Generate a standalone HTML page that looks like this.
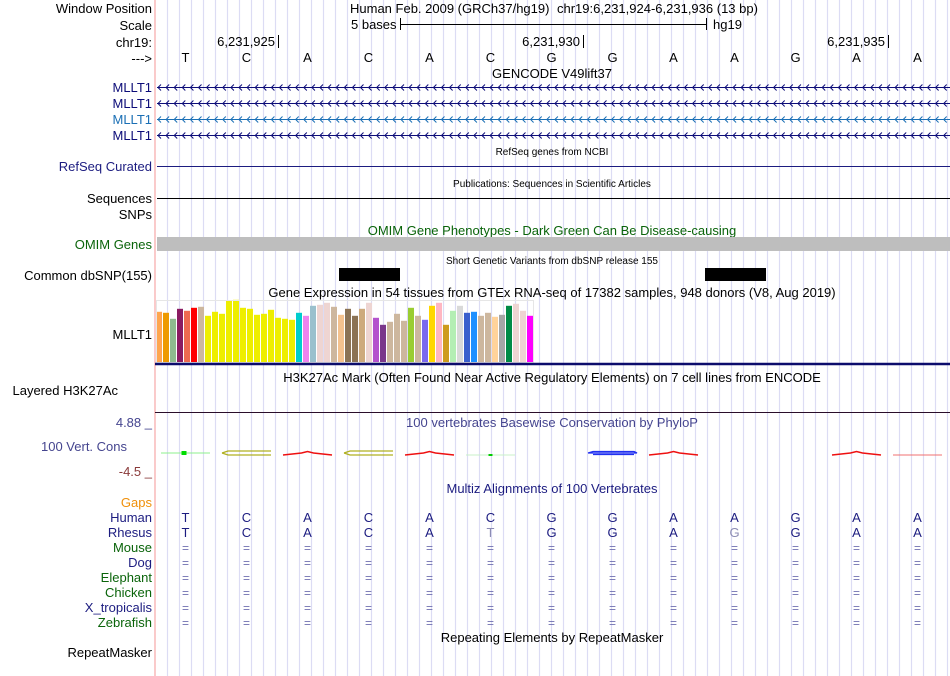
<!DOCTYPE html>
<html><head><meta charset="utf-8"><style>
html,body{margin:0;padding:0;background:#fff;}
svg{display:block;font-family:"Liberation Sans",sans-serif;}
</style></head><body>
<svg id="c" width="950" height="676" xmlns="http://www.w3.org/2000/svg">
<g id="grid"></g>
<line x1="155" y1="0" x2="155" y2="676" stroke="#f7a8a8" stroke-width="1.2"/>
<g id="labels" font-size="13" text-anchor="end">
 <text x="152" y="13" fill="#000">Window Position</text>
 <text x="152" y="30" fill="#000">Scale</text>
 <text x="152" y="47" fill="#000">chr19:</text>
 <text x="152" y="63" fill="#000">---&gt;</text>
 <text x="152" y="92" fill="#0c0c78">MLLT1</text>
 <text x="152" y="108" fill="#0c0c78">MLLT1</text>
 <text x="152" y="124" fill="#1a6fb5">MLLT1</text>
 <text x="152" y="140" fill="#0c0c78">MLLT1</text>
 <text x="152" y="171" fill="#1c1c80">RefSeq Curated</text>
 <text x="152" y="203" fill="#000">Sequences</text>
 <text x="152" y="219" fill="#000">SNPs</text>
 <text x="152" y="249" fill="#0a640a">OMIM Genes</text>
 <text x="152" y="280" fill="#000">Common dbSNP(155)</text>
 <text x="152" y="339" fill="#000">MLLT1</text>
 <text x="118" y="395" fill="#000">Layered H3K27Ac</text>
 <text x="152" y="427" fill="#45458f">4.88 _</text>
 <text x="127" y="451" fill="#45458f">100 Vert. Cons</text>
 <text x="152" y="476" fill="#8a3a3a">-4.5 _</text>
 <text x="152" y="507" fill="#f0900a">Gaps</text>
 <text x="152" y="522" fill="#1c1c80">Human</text>
 <text x="152" y="537" fill="#1c1c80">Rhesus</text>
 <text x="152" y="552" fill="#0a640a">Mouse</text>
 <text x="152" y="567" fill="#1c1c80">Dog</text>
 <text x="152" y="582" fill="#0a640a">Elephant</text>
 <text x="152" y="597" fill="#0a640a">Chicken</text>
 <text x="152" y="612" fill="#1c1c80">X_tropicalis</text>
 <text x="152" y="627" fill="#0a640a">Zebrafish</text>
 <text x="152" y="657" fill="#000">RepeatMasker</text>
</g>
<g font-size="13" fill="#000">
 <text x="350" y="13">Human Feb. 2009 (GRCh37/hg19)</text>
 <text x="557" y="13">chr19:6,231,924-6,231,936 (13 bp)</text>
 <text x="351" y="29">5 bases</text>
 <line x1="400.5" y1="18" x2="400.5" y2="30" stroke="#000"/>
 <line x1="400" y1="24.5" x2="706" y2="24.5" stroke="#000"/>
 <line x1="706.5" y1="18" x2="706.5" y2="30" stroke="#000"/>
 <text x="713" y="29">hg19</text>
</g>
<g id="dyn"></g>
<g font-size="13" text-anchor="middle">
 <text x="552" y="78" fill="#000">GENCODE V49lift37</text>
 <text x="552" y="155" fill="#000" font-size="10">RefSeq genes from NCBI</text>
 <text x="552" y="187" fill="#000" font-size="10">Publications: Sequences in Scientific Articles</text>
 <text x="552" y="235" fill="#0a640a">OMIM Gene Phenotypes - Dark Green Can Be Disease-causing</text>
 <text x="552" y="264" fill="#000" font-size="10">Short Genetic Variants from dbSNP release 155</text>
 <text x="552" y="297" fill="#000">Gene Expression in 54 tissues from GTEx RNA-seq of 17382 samples, 948 donors (V8, Aug 2019)</text>
 <text x="552" y="382" fill="#000">H3K27Ac Mark (Often Found Near Active Regulatory Elements) on 7 cell lines from ENCODE</text>
 <text x="552" y="427" fill="#45458f">100 vertebrates Basewise Conservation by PhyloP</text>
 <text x="552" y="493" fill="#1c1c80">Multiz Alignments of 100 Vertebrates</text>
 <text x="552" y="642" fill="#000">Repeating Elements by RepeatMasker</text>
</g>
<line x1="157" y1="166.5" x2="950" y2="166.5" stroke="#1c1c80"/>
<line x1="157" y1="198.5" x2="950" y2="198.5" stroke="#000"/>
<rect x="157" y="237" width="793" height="14" fill="#bebebe"/>
<rect x="156.5" y="300.5" width="377" height="62" fill="none" stroke="#e6e6e6"/>
<line x1="155" y1="364" x2="950" y2="364" stroke="#0c0c6c" stroke-width="2.5"/>
<line x1="155" y1="412.5" x2="950" y2="412.5" stroke="#2a0e2a"/>
<script>
const bases = ["T","C","A","C","A","C","G","G","A","A","G","A","A"];
const rhesusBases = ["T","C","A","C","A","T","G","G","A","G","G","A","A"];
const tickLabels = ["6,231,925","6,231,930","6,231,935"];
const tickBaseIndex = [1,6,11];
const snpBaseIndex = [3,9];
const consType = ["green","olive","red","olive","red","faint","none","blue","red","none","none","red","faintred"];
const gtexValues = [50.7,49.7,43.7,53.7,51.7,54.7,55.7,46.7,50.7,48.7,61.7,62.7,54.7,53.7,47.7,48.7,52.7,44.7,43.7,42.7,49.7,46.7,56.7,57.7,59.7,55.7,47.7,53.7,46.7,53.7,59.7,44.7,37.7,40.7,48.7,41.7,54.7,46.7,42.7,56.7,59.7,37.7,51.7,56.7,49.7,50.7,46.7,49.7,45.7,47.7,56.7,58.7,51.7,46.7];
const gtexColors = ["#FFA54F","#EE9A00","#8FBC8F","#8B1C62","#EE6A50","#FF0000","#CDB79E","#EEEE00","#EEEE00","#EEEE00","#EEEE00","#EEEE00","#EEEE00","#EEEE00","#EEEE00","#EEEE00","#EEEE00","#EEEE00","#EEEE00","#EEEE00","#00CDCD","#EE82EE","#9AC0CD","#EED5D2","#EED5D2","#CDB79E","#F4C28E","#8B7355","#8B7355","#CDAA7D","#EED5D2","#B452CD","#7A378B","#CDB79E","#CDB79E","#CDB79E","#9ACD32","#CDB79E","#7B68EE","#FFD700","#FFB6C1","#CD9B1D","#B4EEB4","#D9D9D9","#3A5FCD","#1E90FF","#CDB79E","#CDB79E","#FFD39B","#A6A6A6","#008B45","#EED5D2","#EED5D2","#FF00FF"];
const speciesRows = ["Mouse","Dog","Elephant","Chicken","X_tropicalis","Zebrafish"];

const NS="http://www.w3.org/2000/svg";
const X0=155, BW=61;
const bx = i => X0 + BW*i;
const bc = i => X0 + BW*i + BW/2;
const gtexMax = 63, gtexBase = 362.5, gtexH = 63;
const gy = v => gtexBase - v/gtexMax*gtexH;
function mk(tag, attrs, parent){const e=document.createElementNS(NS,tag);for(const k in attrs)e.setAttribute(k,attrs[k]);(parent||document.getElementById('dyn')).appendChild(e);return e;}

const grid=document.getElementById('grid');
for(let x=167.5;x<950;x+=12){
  const l=mk('line',{x1:x,y1:0,x2:x,y2:676,stroke:'#dcdcf4','stroke-width':1.2},grid);
  
  
}
tickLabels.forEach((t,k)=>{
  const x=bx(tickBaseIndex[k]+1)+1;
  const tx=mk('text',{x:x-3,y:46,'font-size':13,'text-anchor':'end',fill:'#000'});tx.textContent=t;
  
  
  const ln=mk('line',{x1:x+0.5,y1:35,x2:x+0.5,y2:48,stroke:'#000'});
  
  
});
bases.forEach((b,i)=>{
  const t=mk('text',{x:bc(i),y:62,'font-size':13,'text-anchor':'middle',fill:'#000'});t.textContent=b;
  
  
  const h=mk('text',{x:bc(i),y:522,'font-size':13,'text-anchor':'middle',fill:'#1c1c80'});h.textContent=b;
  
  
  const r=mk('text',{x:bc(i),y:537,'font-size':13,'text-anchor':'middle',fill:rhesusBases[i]===b?'#1c1c80':'#8c8cb4'});r.textContent=rhesusBases[i];
  
  
  speciesRows.forEach((s,k)=>{
    const e=mk('text',{x:bc(i),y:552+15*k,'font-size':12,'text-anchor':'middle',fill:'#7070b0'});e.textContent='=';
    
    
  });
});
const geneColors=['#0c0c78','#0c0c78','#1a6fb5','#0c0c78'];
geneColors.forEach((c,k)=>{
  const y=87.5+16*k;
  let d=`M157 ${y} L950 ${y}`;
  for(let x=158;x<948;x+=8.1){d+=` M${(x+3).toFixed(1)} ${y-3} L${x.toFixed(1)} ${y} L${(x+3).toFixed(1)} ${y+3}`;}
  const p=mk('path',{d:d,stroke:c,fill:'none','stroke-width':1});
  
  
});
snpBaseIndex.forEach(i=>{
  const r=mk('rect',{x:bx(i)+1,y:268,width:BW,height:13,fill:'#000'});
  
  
});
gtexValues.forEach((v,i)=>{
  const r=mk('rect',{x:156+7*i,y:gy(v),width:6,height:gtexBase-gy(v),fill:gtexColors[i]});
  
  
});
consType.forEach((t,i)=>{
  const x1=bx(i)+6,x2=bx(i)+BW-6,xm=(x1+x2)/2,y=453;
  let el=null;
  if(t==='green'){el=mk('g',{});mk('line',{x1:x1,y1:y,x2:x2,y2:y,stroke:'#8ef08e'},el);mk('rect',{x:xm-4,y:y-2,width:5,height:4,fill:'#00dd00'},el);}
  else if(t==='faint'){el=mk('g',{});mk('line',{x1:x1,y1:y+2,x2:x2,y2:y+2,stroke:'#c8f0c8'},el);mk('rect',{x:xm-2,y:y+1,width:4,height:2,fill:'#00cc00'},el);}
  else if(t==='olive'){el=mk('path',{d:`M${x1} ${y} L${x1+6} ${y-2} L${x2} ${y-2} M${x1} ${y} L${x1+6} ${y+2} L${x2} ${y+2}`,stroke:'#b0b020',fill:'none','stroke-width':1.3});}
  else if(t==='blue'){el=mk('path',{d:`M${x1} ${y} L${x1+5} ${y-1.5} L${x2-3} ${y-1.5} L${x2} ${y} L${x1} ${y} M${x1+5} ${y+1.5} L${x2-3} ${y+1.5}`,stroke:'#2030f0',fill:'none','stroke-width':1.3});}
  else if(t==='red'){el=mk('path',{d:`M${x1} ${y+2} L${xm-6} ${y} L${xm} ${y-1.5} L${xm+6} ${y} L${x2} ${y+2}`,stroke:'#ee1010',fill:'none','stroke-width':1.5});}
  else if(t==='faintred'){el=mk('line',{x1:x1,y1:y+2,x2:x2,y2:y+2,stroke:'#f07070'});}
  if(el){
    
    
  }
});
</script>
</svg>
</body></html>
